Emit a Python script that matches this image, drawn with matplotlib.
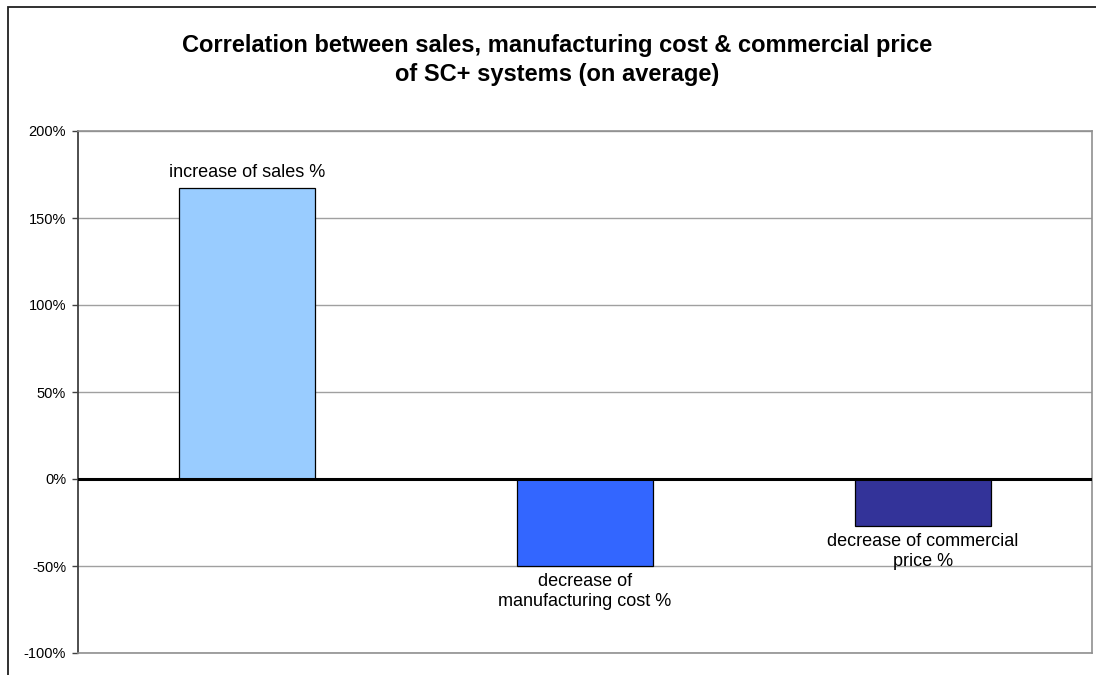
import numpy as np
import matplotlib
matplotlib.use('Agg')
import matplotlib.pyplot as plt
from matplotlib.ticker import FuncFormatter
from matplotlib.patches import Rectangle

# chart data
categories = ['increase of sales %',
              'decrease of\nmanufacturing cost %',
              'decrease of commercial\nprice %']
values = [1.67, -0.50, -0.27]
colors = ['#99CCFF', '#3366FF', '#333399']
y_ticks = [-1.0, -0.5, 0.0, 0.5, 1.0, 1.5, 2.0]

plt.rcParams['font.family'] = ['Liberation Sans', 'DejaVu Sans']

W, H = 1096, 675
fig = plt.figure(figsize=(W / 100, H / 100), dpi=100)
fig.patch.set_facecolor('white')

# outer chart border (cut off at right and bottom like the original)
fig.patches.append(Rectangle((8 / W, -0.1), 1.2, 1 - 7 / H + 0.1,
                             transform=fig.transFigure, fill=False,
                             edgecolor='#202020', linewidth=1.3))

ax = fig.add_axes([78 / W, 22 / H, (1092 - 78) / W, (653 - 131) / H])

x = np.arange(len(categories))
bars = ax.bar(x, values, width=0.4, color=colors, edgecolor='black',
              linewidth=0.9, zorder=2)

ax.set_xlim(-0.5, len(categories) - 0.5)
ax.set_ylim(-1.0, 2.0)
ax.set_yticks(y_ticks)
ax.yaxis.set_major_formatter(FuncFormatter(lambda v, p: '%d%%' % round(v * 100)))
ax.set_xticks([])
ax.grid(axis='y', color='#a0a0a0', linewidth=1.0, zorder=0)
ax.axhline(0, color='black', linewidth=2.2, zorder=3)

ax.tick_params(axis='y', direction='out', length=4.5, width=1.0,
               color='#404040', pad=4, labelsize=10.5, labelcolor='black')
for side in ['top', 'bottom', 'right']:
    ax.spines[side].set_color('#909090')
    ax.spines[side].set_linewidth(1.2)
ax.spines['left'].set_color('#404040')
ax.spines['left'].set_linewidth(1.3)

# category labels at the bar ends
for xi, v, lab in zip(x, values, categories):
    if v >= 0:
        ax.annotate(lab, (xi, v), xytext=(0, 5), textcoords='offset points',
                    ha='center', va='bottom', fontsize=13, linespacing=1.25)
    else:
        ax.annotate(lab, (xi, v), xytext=(0, -5), textcoords='offset points',
                    ha='center', va='top', fontsize=13, linespacing=1.25)

fig.text(557 / W, 1 - 60 / H,
         'Correlation between sales, manufacturing cost & commercial price\n'
         'of SC+ systems (on average)',
         ha='center', va='center', fontsize=17, fontweight='bold',
         linespacing=1.3)

fig.savefig('out.png', dpi=100)
